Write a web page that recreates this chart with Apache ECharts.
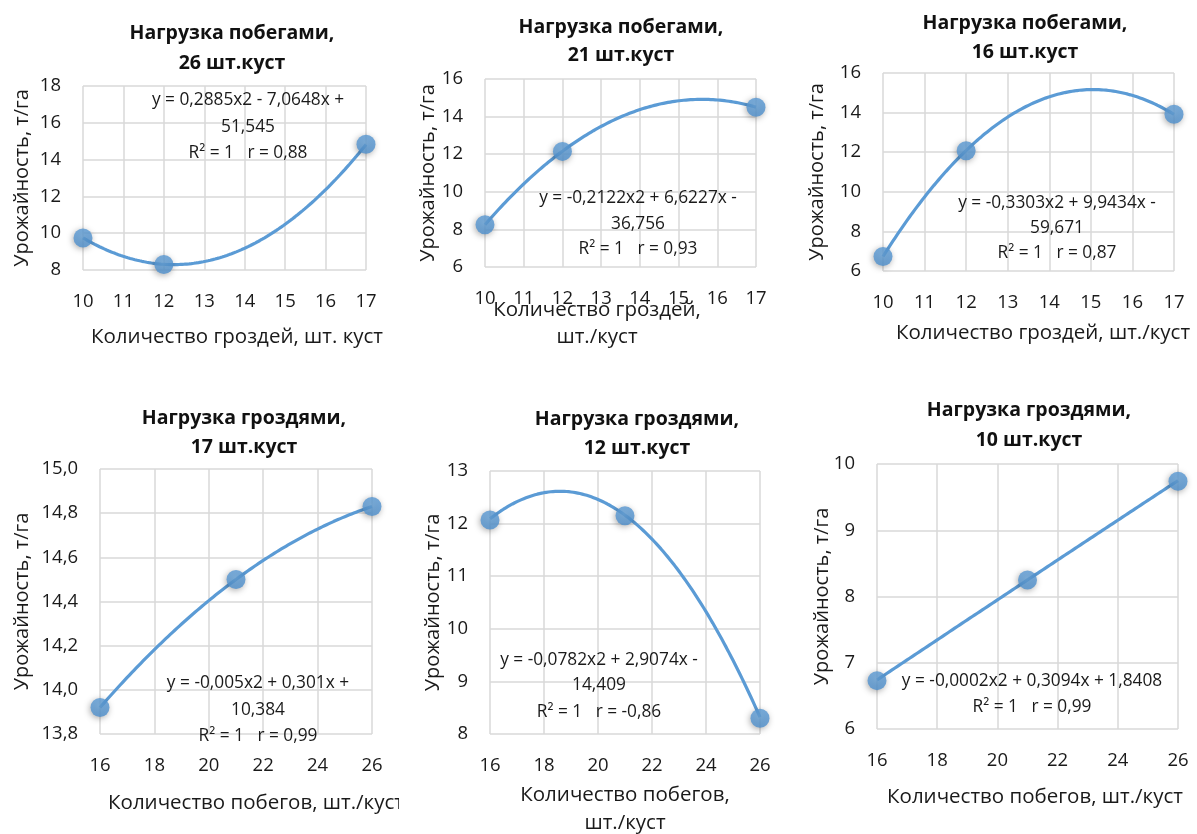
<!DOCTYPE html>
<html>
<head>
<meta charset="utf-8">
<script src="https://cdn.jsdelivr.net/npm/echarts@6/dist/echarts.min.js"></script>
<style>
html,body{margin:0;padding:0;background:#fff;}
#main{width:1197px;height:834px;}
</style>
</head>
<body>
<div id="main"></div>
<script>
// ---------- DATA ----------
const xClusters = [10, 12, 17];
const xShoots = [16, 21, 26];

const yield26shoots = [9.74, 8.3, 14.83];
const yield21shoots = [8.25, 12.15, 14.5];
const yield16shoots = [6.73, 12.07, 13.92];
const yield17clusters = [13.92, 14.5, 14.83];
const yield12clusters = [12.07, 12.15, 8.3];
const yield10clusters = [6.73, 8.25, 9.74];

// polynomial trendline coefficients as printed on the chart [a, b, c] : y = a x^2 + b x + c
const trend26shoots = [0.2885, -7.0648, 51.545];
const trend21shoots = [-0.2122, 6.6227, -36.756];
const trend16shoots = [-0.3303, 9.9434, -59.671];
const trend17clusters = [-0.005, 0.301, 10.384];
const trend12clusters = [-0.0782, 2.9074, -14.409];
const trend10clusters = [-0.0002, 0.3094, 1.8408];

const titles = [
  ['Нагрузка побегами,', '26 шт.куст'],
  ['Нагрузка побегами,', '21 шт.куст'],
  ['Нагрузка побегами,', '16 шт.куст'],
  ['Нагрузка гроздями,', '17 шт.куст'],
  ['Нагрузка гроздями,', '12 шт.куст'],
  ['Нагрузка гроздями,', '10 шт.куст']
];
const equations = [
  ['y = 0,2885x2 - 7,0648x +', '51,545', 'R² = 1   r = 0,88'],
  ['y = -0,2122x2 + 6,6227x -', '36,756', 'R² = 1   r = 0,93'],
  ['y = -0,3303x2 + 9,9434x -', '59,671', 'R² = 1   r = 0,87'],
  ['y = -0,005x2 + 0,301x +', '10,384', 'R² = 1   r = 0,99'],
  ['y = -0,0782x2 + 2,9074x -', '14,409', 'R² = 1   r = -0,86'],
  ['y = -0,0002x2 + 0,3094x + 1,8408', 'R² = 1   r = 0,99']
];
const xAxisTitles = [
  ['Количество гроздей, шт. куст'],
  ['Количество гроздей,', 'шт./куст'],
  ['Количество гроздей, шт./куст'],
  ['Количество побегов, шт./куст'],
  ['Количество побегов,', 'шт./куст'],
  ['Количество побегов, шт./куст']
];
const yAxisTitle = 'Урожайность, т/га';

// x axis ranges [min, max, interval], y axis ranges [min, max, interval]
const xRanges = [[10, 17, 1], [10, 17, 1], [10, 17, 1], [16, 26, 2], [16, 26, 2], [16, 26, 2]];
const yRanges = [[8, 18, 2], [6, 16, 2], [6, 16, 2], [13.8, 15.0, 0.2], [8, 13, 1], [6, 10, 1]];

// ---------- LAYOUT ----------
const FONT = '"Open Sans", "Liberation Sans", sans-serif';
const BLUE = '#5b9bd5';
const layout = [
  {grid:[83, 86, 283, 184], title:[232, 33, 63], eq:[248, [100, 127, 153]], xt:[237, [337]], yt:22},
  {grid:[485, 79, 271, 188], title:[621, 27, 55], eq:[638, [198, 224, 249]], xt:[597, [310, 337]], yt:428},
  {grid:[883, 73, 291, 198], title:[1025, 23, 52], eq:[1057, [203, 228, 253]], xt:[1043, [333]], yt:817},
  {grid:[100, 469, 272, 265], title:[244, 418, 447], eq:[258, [683, 710, 736]], xt:[256, [803]], yt:22},
  {grid:[490, 471, 270, 263], title:[637, 419, 448], eq:[599, [660, 685, 712]], xt:[625, [795, 823]], yt:433},
  {grid:[877, 464, 301, 265], title:[1029, 410, 440], eq:[1032, [681, 707]], xt:[1035, [797]], yt:822}
];

const xData = [xClusters, xClusters, xClusters, xShoots, xShoots, xShoots];
const yData = [yield26shoots, yield21shoots, yield16shoots, yield17clusters, yield12clusters, yield10clusters];
const trends = [trend26shoots, trend21shoots, trend16shoots, trend17clusters, trend12clusters, trend10clusters];

const grids = [], xAxes = [], yAxes = [], series = [], graphics = [];

for (let i = 0; i < 6; i++) {
  const L = layout[i];
  grids.push({left: L.grid[0], top: L.grid[1], width: L.grid[2], height: L.grid[3], containLabel: false});
  xAxes.push({
    type: 'value', gridIndex: i, min: xRanges[i][0], max: xRanges[i][1], interval: xRanges[i][2],
    axisLine: {show: false}, axisTick: {show: false},
    axisLabel: {fontSize: 18.5, color: '#1a1a1a', fontFamily: FONT, margin: 22},
    splitLine: {show: true, lineStyle: {color: '#d9d9d9', width: 1.5}}
  });
  const dec = i === 3 ? 1 : 0;
  yAxes.push({
    type: 'value', gridIndex: i, min: yRanges[i][0], max: yRanges[i][1], interval: yRanges[i][2],
    axisLine: {show: false}, axisTick: {show: false},
    axisLabel: {fontSize: 18.5, color: '#1a1a1a', fontFamily: FONT, margin: 22,
      formatter: v => (+v).toFixed(dec).replace('.', ',')},
    splitLine: {show: true, lineStyle: {color: '#d9d9d9', width: 1.5}}
  });

  // trendline drawn from the printed polynomial
  const c = trends[i];
  const tx0 = xData[i][0], tx1 = xData[i][xData[i].length - 1];
  const curve = [];
  const steps = 120;
  for (let k = 0; k <= steps; k++) {
    const x = tx0 + (tx1 - tx0) * k / steps;
    curve.push([x, c[0] * x * x + c[1] * x + c[2]]);
  }
  series.push({
    type: 'line', xAxisIndex: i, yAxisIndex: i, data: curve, showSymbol: false, symbol: 'none',
    lineStyle: {color: BLUE, width: 3.2}, silent: true, z: 2, animation: false
  });
  series.push({
    type: 'scatter', xAxisIndex: i, yAxisIndex: i,
    data: xData[i].map((x, k) => [x, yData[i][k]]),
    symbol: 'circle', symbolSize: 19, z: 3, animation: false,
    itemStyle: {
      color: {type: 'radial', x: 0.45, y: 0.4, r: 0.6,
        colorStops: [{offset: 0, color: '#6aa6dc'}, {offset: 1, color: '#4d8fcd'}]},
      shadowBlur: 6, shadowColor: 'rgba(0,0,0,0.4)', shadowOffsetX: -1, shadowOffsetY: 1.5
    }
  });

  // title
  graphics.push({type: 'text', x: L.title[0], y: L.title[1], style: {text: titles[i][0], textAlign: 'center', textVerticalAlign: 'middle', font: 'bold 19.5px ' + FONT, fill: '#111'}});
  graphics.push({type: 'text', x: L.title[0], y: L.title[2], style: {text: titles[i][1], textAlign: 'center', textVerticalAlign: 'middle', font: 'bold 19.5px ' + FONT, fill: '#111'}});
  // equation
  equations[i].forEach((line, k) => {
    graphics.push({type: 'text', x: L.eq[0], y: L.eq[1][k], z: 10, style: {text: line, textAlign: 'center', textVerticalAlign: 'middle', font: '17.3px ' + FONT, fill: '#1a1a1a'}});
  });
  // x axis title
  xAxisTitles[i].forEach((line, k) => {
    graphics.push({type: 'text', x: L.xt[0], y: L.xt[1][k], z: 10, style: {text: line, textAlign: 'center', textVerticalAlign: 'middle', font: '20.5px ' + FONT, fill: '#1a1a1a'}});
  });
  // y axis title
  graphics.push({type: 'text', x: L.yt, y: L.grid[1] + L.grid[3] / 2, rotation: Math.PI / 2, z: 10,
    style: {text: yAxisTitle, textAlign: 'center', textVerticalAlign: 'middle', font: '20px ' + FONT, fill: '#1a1a1a'}});
}
// clipping of the 4th chart's axis title at the panel edge
graphics.push({type: 'rect', shape: {x: 399, y: 785, width: 24, height: 36}, style: {fill: '#fff'}, z: 20});

const chart = echarts.init(document.getElementById('main'), null, {renderer: 'canvas'});
chart.setOption({
  animation: false,
  backgroundColor: '#fff',
  grid: grids, xAxis: xAxes, yAxis: yAxes, series: series, graphic: graphics
});
</script>
</body>
</html>
